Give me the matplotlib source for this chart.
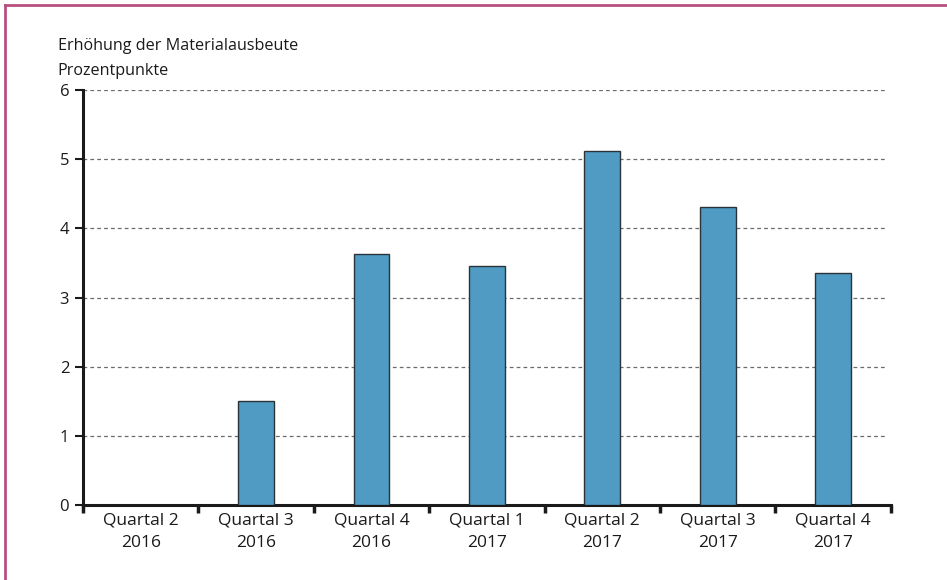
import matplotlib
matplotlib.use("Agg")
import matplotlib.pyplot as plt
from matplotlib.lines import Line2D

categories = ["Quartal 2\n2016", "Quartal 3\n2016", "Quartal 4\n2016", "Quartal 1\n2017",
              "Quartal 2\n2017", "Quartal 3\n2017", "Quartal 4\n2017"]
values = [0.0, 1.5, 3.63, 3.46, 5.11, 4.31, 3.36]
yticks = [0, 1, 2, 3, 4, 5, 6]

plt.rcParams['font.family'] = ['Open Sans', 'DejaVu Sans']

fig = plt.figure(figsize=(9.47, 5.8), dpi=100)
ax = fig.add_axes([0.0877, 0.129, 0.853, 0.716])

x = list(range(len(categories)))
ax.bar(x, values, width=0.31, color="#4f9bc3", edgecolor="#2b3338", linewidth=1.0, zorder=3)

ax.set_xlim(-0.5, 6.5)
ax.set_ylim(0, 6)
ax.set_yticks(yticks)
ax.set_yticklabels([str(t) for t in yticks], fontsize=12, color="#1a1a1a")
for t in yticks[1:]:
    ax.axhline(t, xmin=0, xmax=0.995, color="#6b6b6b", linestyle=(0, (3, 2.5)), linewidth=0.9, zorder=1)

ax.set_xticks(x)
ax.set_xticklabels(categories, fontsize=12.5, color="#1a1a1a", linespacing=1.6)
ax.tick_params(axis='x', length=0, pad=5)
ax.set_xticks([i + 0.5 for i in range(-1, len(categories))], minor=True)
ax.tick_params(axis='x', which='minor', length=6, width=2.5, color="#1a1a1a", direction='out')
ax.tick_params(axis='y', length=6, width=1.5, color="#1a1a1a", direction='out', pad=4)

for s in ['top', 'right']:
    ax.spines[s].set_visible(False)
ax.spines['left'].set_linewidth(2.2)
ax.spines['bottom'].set_linewidth(2.2)
ax.spines['left'].set_color("#1a1a1a")
ax.spines['bottom'].set_color("#1a1a1a")

fig.text(0.061, 0.913, "Erhöhung der Materialausbeute", fontsize=11.6, color="#1a1a1a", va='baseline')
fig.text(0.061, 0.871, "Prozentpunkte", fontsize=11.6, color="#1a1a1a", va='baseline')

border = "#b5507f"
fig.add_artist(Line2D([0.005, 1.0], [0.991, 0.991], color=border, linewidth=2, transform=fig.transFigure))
fig.add_artist(Line2D([0.005, 0.005], [0.0, 0.991], color=border, linewidth=2, transform=fig.transFigure))

fig.savefig("out.png", dpi=100)
